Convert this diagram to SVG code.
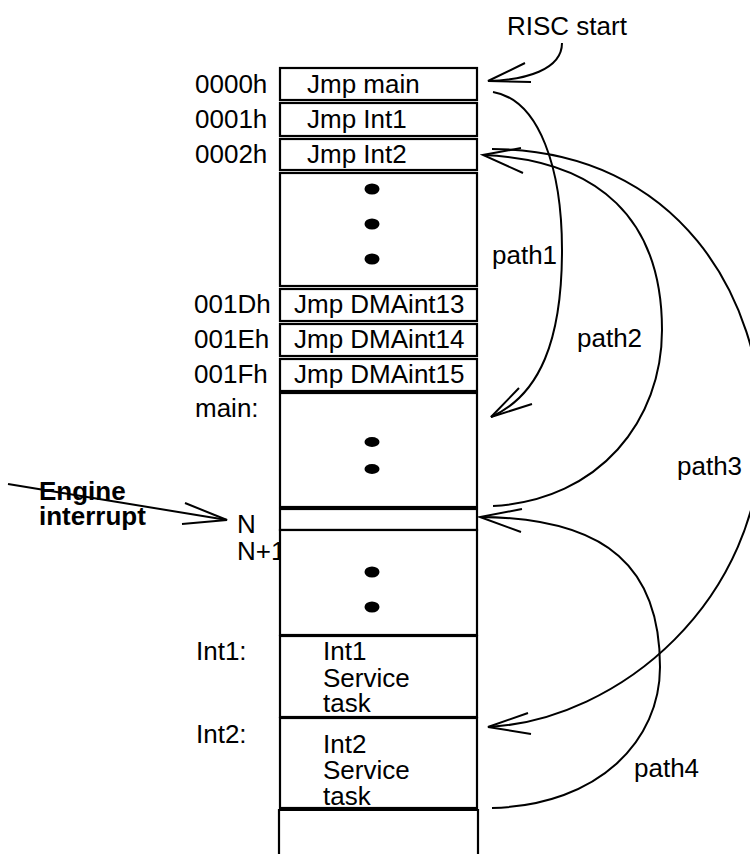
<svg xmlns="http://www.w3.org/2000/svg" width="750" height="854" viewBox="0 0 750 854">
<style>
text{font-family:"Liberation Sans",Arial,Helvetica,sans-serif;font-size:26px;fill:#000}
.b{font-weight:bold}
.box{fill:#fff;stroke:#000;stroke-width:2.2}
.dot{fill:#000}
.c{fill:none;stroke:#000;stroke-width:2}
</style>
<rect width="750" height="854" fill="#fff"/>
<g id="labels">
<text x="195" y="93">0000h</text>
<text x="195" y="128">0001h</text>
<text x="195" y="163">0002h</text>
<text x="194" y="313">001Dh</text>
<text x="194" y="348">001Eh</text>
<text x="194" y="383">001Fh</text>
<text x="195" y="417">main:</text>
<text x="237" y="533">N</text>
<text x="237" y="560">N+1</text>
<text x="196" y="660">Int1:</text>
<text x="196" y="743">Int2:</text>
<text x="507" y="35">RISC start</text>
<text x="492" y="264">path1</text>
<text x="577" y="347">path2</text>
<text x="677" y="475">path3</text>
<text x="634" y="777">path4</text>
</g>
<g id="engine">
<text class="b" x="39" y="500">Engine</text>
<text class="b" x="39" y="525">interrupt</text>
</g>
<g id="n0000"><rect class="box" x="280" y="68" width="197" height="32"/><text x="307" y="93">Jmp main</text></g>
<g id="n0001"><rect class="box" x="280" y="103" width="197" height="33"/><text x="307" y="128">Jmp Int1</text></g>
<g id="n0002"><rect class="box" x="280" y="139" width="197" height="31"/><text x="307" y="163">Jmp Int2</text></g>
<g id="gap1"><rect class="box" x="280" y="173" width="197" height="113"/>
<ellipse class="dot" cx="372" cy="189" rx="7.5" ry="5.5"/><ellipse class="dot" cx="372" cy="224" rx="7.5" ry="5.5"/><ellipse class="dot" cx="372" cy="259" rx="7.5" ry="5.5"/></g>
<g id="n001D"><rect class="box" x="280" y="289" width="197" height="32"/><text x="294" y="313">Jmp DMAint13</text></g>
<g id="n001E"><rect class="box" x="280" y="324" width="197" height="32"/><text x="294" y="348">Jmp DMAint14</text></g>
<g id="n001F"><rect class="box" x="280" y="359" width="197" height="32"/><text x="294" y="383">Jmp DMAint15</text></g>
<g id="main"><rect class="box" x="280" y="393" width="197" height="114"/>
<ellipse class="dot" cx="372" cy="442" rx="7.5" ry="5"/><ellipse class="dot" cx="372" cy="469" rx="7.5" ry="5"/></g>
<g id="nN"><rect class="box" x="280" y="509" width="197" height="21"/></g>
<g id="nN1"><rect class="box" x="280" y="530" width="197" height="105"/>
<ellipse class="dot" cx="372" cy="572" rx="7.5" ry="5.5"/><ellipse class="dot" cx="372" cy="607" rx="7.5" ry="5.5"/></g>
<g id="int1"><rect class="box" x="280" y="636" width="197" height="81"/>
<text x="323" y="660">Int1</text><text x="323" y="687">Service</text><text x="323" y="712">task</text></g>
<g id="int2"><rect class="box" x="280" y="718" width="197" height="90"/>
<text x="323" y="753">Int2</text><text x="323" y="779">Service</text><text x="323" y="805">task</text></g>
<g id="last"><path class="box" d="M279,860 V810 H478 V860"/></g>
<g id="connectors">
<path class="c" d="M562,43 C562,70 525,80 488,81"/>
<polyline class="c" points="525,63 488,81 531,82"/>
<path class="c" d="M493,92 C540,100 562,170 562,250 C562,340 540,395 491,417"/>
<polyline class="c" points="519,388 491,417 532,404"/>
<path class="c" d="M493,506 C600,500 662,420 662,330 C662,220 600,160 483,155"/>
<polyline class="c" points="521,148 483,155 523,173"/>
<path class="c" d="M492,149 C680,150 762,300 762,430 C762,600 620,720 488,727"/>
<polyline class="c" points="528,713 488,727 531,734"/>
<path class="c" d="M492,808 C600,805 660,740 660,667 C660,570 610,518 480,517"/>
<polyline class="c" points="522,509 480,517 521,532"/>
<line class="c" x1="8" y1="484" x2="227" y2="520"/>
<polyline class="c" points="185,503 227,520 182,524"/>
</g>
</svg>
